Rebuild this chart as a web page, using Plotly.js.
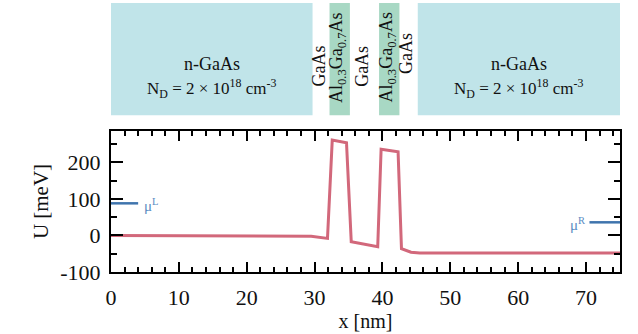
<!DOCTYPE html>
<html>
<head>
<meta charset="utf-8">
<script src="https://cdn.plot.ly/plotly-3.0.1.min.js"></script>
<style>html,body{margin:0;padding:0;background:#fff;}#chart{width:638px;height:334px;}</style>
</head>
<body>
<div id="chart"></div>
<script>
// Potential profile U(x)
const potX = [0, 28, 29.5, 31.9, 32.6, 34.7, 35.4, 39.3, 39.8, 42.3, 42.8, 44.2, 45.5, 75];
const potY = [0, 0, -2, -8, 261, 254, -17, -31, 236, 229, -36, -46, -48, -48];

// Chemical potentials
const muLX = [0, 4];
const muLY = [88, 88];
const muRX = [70.5, 75];
const muRY = [36, 36];

// Layer structure (nm)
const layerStart = [0, 29.7, 32.2, 35.2, 39.5, 42.5, 45.2];
const layerEnd   = [29.7, 32.2, 35.2, 39.5, 42.5, 45.2, 75];
const layerType  = ['n', 'spacer', 'barrier', 'well', 'barrier', 'spacer', 'n'];
const layerLabel = ['n-GaAs', 'GaAs', 'Al<sub>0.3</sub>Ga<sub>0.7</sub>As', 'GaAs',
                    'Al<sub>0.3</sub>Ga<sub>0.7</sub>As', 'GaAs', 'n-GaAs'];
const dopingLabel = 'N<sub>D</sub> = 2 × 10<sup>18</sup> cm<sup>-3</sup>';

const xTickVals = [0, 10, 20, 30, 40, 50, 60, 70];
const yTickVals = [-100, 0, 100, 200];

const FONT = 'Liberation Serif, Times New Roman, serif';
const fillColor = {n: '#c0e4e9', barrier: '#a8d8c4'};

const shapes = [];
const annotations = [];
// paper y mapping for the diagram band
const bandTop = 1.907, bandBot = 1.111;
const rotY = {spacer: 1.458, barrier: 1.522, well: 1.458};
layerType.forEach((t, i) => {
  const mid = (layerStart[i] + layerEnd[i]) / 2;
  if (fillColor[t]) {
    shapes.push({type: 'rect', xref: 'x', yref: 'paper',
      x0: layerStart[i], x1: layerEnd[i], y0: bandBot, y1: bandTop,
      fillcolor: fillColor[t], line: {width: 0}, layer: 'below'});
  }
  if (t === 'n') {
    annotations.push({xref: 'x', yref: 'paper', x: mid, y: 1.477, text: layerLabel[i],
      xanchor: 'center', yanchor: 'middle',
      showarrow: false, font: {family: FONT, size: 18, color: '#111'}});
    annotations.push({xref: 'x', yref: 'paper', x: mid, y: 1.300, text: dopingLabel,
      xanchor: 'center', yanchor: 'middle',
      showarrow: false, font: {family: FONT, size: 17, color: '#111'}});
  } else {
    let yy = rotY[t];
    if (i === 5) yy = 1.55;
    annotations.push({xref: 'x', yref: 'paper', x: mid - 0.3, y: yy, text: layerLabel[i],
      xanchor: 'center', yanchor: 'middle',
      textangle: -90, showarrow: false, font: {family: FONT, size: 18, color: '#111'}});
  }
});

annotations.push({xref: 'x', yref: 'y', x: 5.9, y: 83, text: 'μ<sup>L</sup>', showarrow: false,
  xanchor: 'center', yanchor: 'middle', font: {family: FONT, size: 15, color: '#5a8cc3'}});
annotations.push({xref: 'x', yref: 'y', x: 68.7, y: 31, text: 'μ<sup>R</sup>', showarrow: false,
  xanchor: 'center', yanchor: 'middle', font: {family: FONT, size: 15, color: '#5a8cc3'}});

const traces = [
  {x: potX, y: potY, type: 'scatter', mode: 'lines',
   line: {color: '#d2687b', width: 3}, hoverinfo: 'skip'},
  {x: muLX, y: muLY, type: 'scatter', mode: 'lines',
   line: {color: '#3f74ad', width: 2.5}, hoverinfo: 'skip'},
  {x: muRX, y: muRY, type: 'scatter', mode: 'lines',
   line: {color: '#3f74ad', width: 2.5}, hoverinfo: 'skip'}
];

const layout = {
  width: 638, height: 334,
  margin: {l: 111, r: 18, t: 131, b: 62},
  paper_bgcolor: '#fff', plot_bgcolor: '#fff',
  showlegend: false,
  font: {family: FONT, size: 22, color: '#111'},
  xaxis: {
    range: [0, 75], tickvals: xTickVals, ticktext: xTickVals.map(String),
    showline: true, linewidth: 2, linecolor: '#000', mirror: 'ticks',
    ticks: 'inside', ticklen: 10, tickwidth: 2, tickcolor: '#000',
    minor: {dtick: 2, tick0: 0, ticks: 'inside', ticklen: 5, tickwidth: 2, tickcolor: '#000', showgrid: false},
    showgrid: false, zeroline: false, ticklabelstandoff: 5,
    tickfont: {family: FONT, size: 22, color: '#111'},
    title: {text: 'x [nm]', font: {family: FONT, size: 20, color: '#111'}, standoff: 0}
  },
  yaxis: {
    range: [-100, 286], tickvals: yTickVals, ticktext: yTickVals.map(String),
    showline: true, linewidth: 2, linecolor: '#000', mirror: 'ticks',
    ticks: 'inside', ticklen: 12, tickwidth: 2, tickcolor: '#000',
    minor: {dtick: 50, tick0: 0, ticks: 'inside', ticklen: 6, tickwidth: 2, tickcolor: '#000', showgrid: false},
    showgrid: false, zeroline: false, ticklabelstandoff: 4,
    tickfont: {family: FONT, size: 22, color: '#111'},
    title: {text: 'U [meV]', font: {family: FONT, size: 21, color: '#111'}, standoff: 6}
  },
  shapes: shapes,
  annotations: annotations
};

Plotly.newPlot('chart', traces, layout, {displayModeBar: false});
</script>
</body>
</html>
